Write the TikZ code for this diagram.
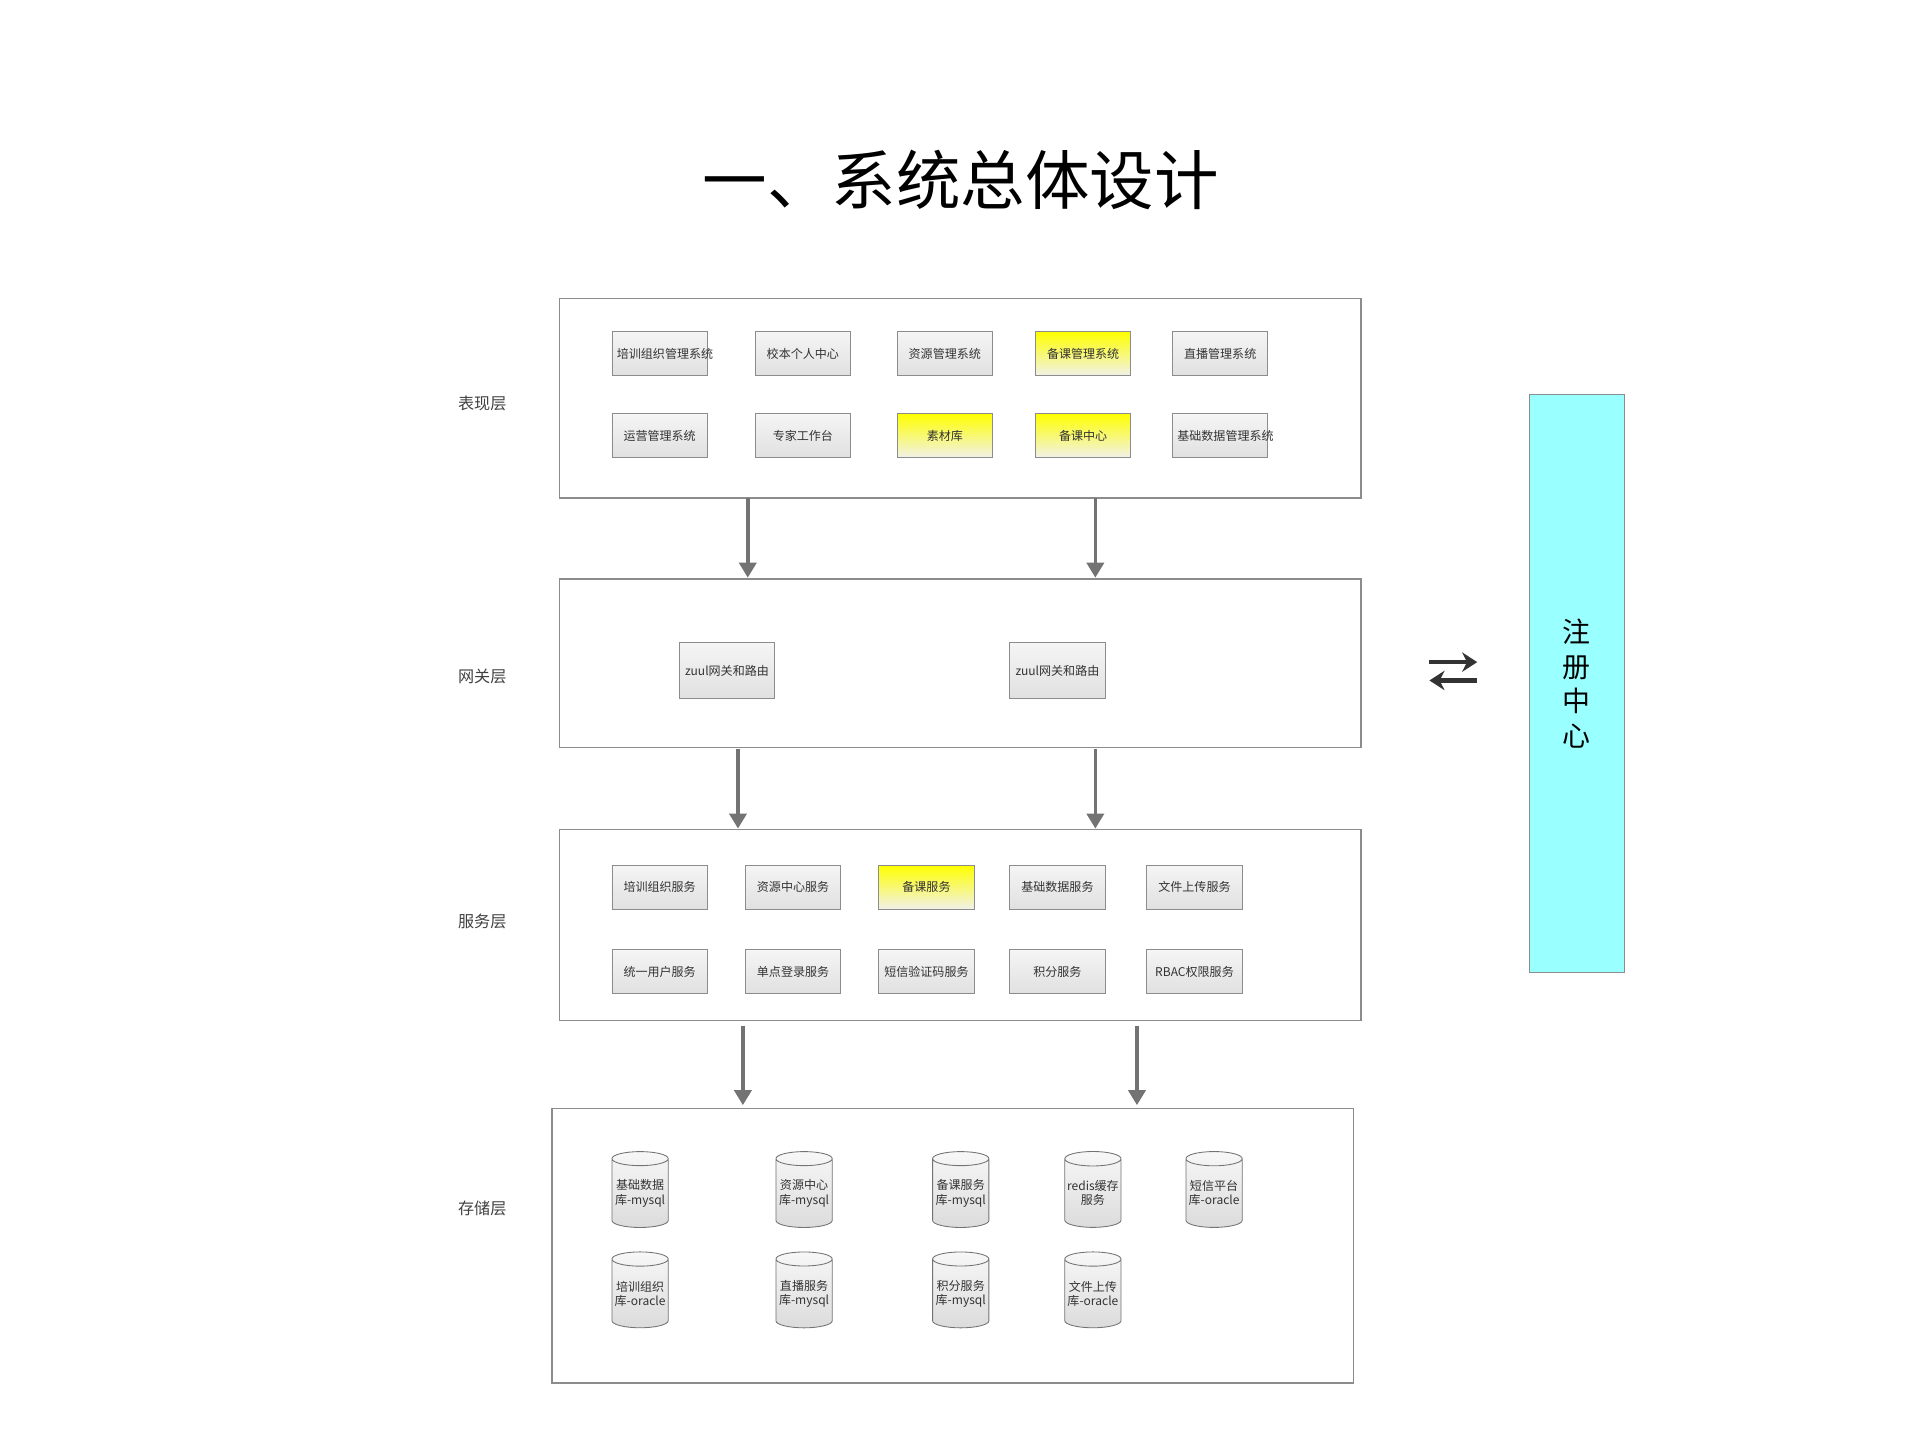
\documentclass[tikz,border=0pt]{standalone}
\usepackage{fontspec}
\setmainfont{Noto Sans CJK SC}
\usetikzlibrary{shapes.geometric,arrows.meta}
\definecolor{regc}{RGB}{153,255,255}
\begin{document}
\begin{tikzpicture}[x=0.02cm,y=-0.02cm,
 layer/.style={draw=black!45,line width=0.6pt},
 sbox/.style={draw=black!45,top color=black!4,bottom color=black!12,minimum width=1.56cm,minimum height=0.72cm,inner sep=1pt,align=center,font=\fontsize{5.6}{6.6}\selectfont,text=black!80,text width=1.4cm},
 ybox/.style={sbox,top color=yellow,bottom color=yellow!30!black!8},
 gbox/.style={sbox,minimum height=0.92cm},
 db/.style={cylinder,shape border rotate=90,aspect=0.28,draw=black!55,top color=black!3,bottom color=black!14,minimum width=0.92cm,minimum height=1.24cm,inner sep=0pt,align=center,font=\fontsize{5.6}{6.6}\selectfont,text=black!80},
 lbl/.style={font=\fontsize{7.5}{9}\selectfont,text=black!75},
 flow/.style={-{Triangle[length=7pt,width=8pt]},draw=black!55,line width=1.6pt}]
\useasboundingbox (0,0) rectangle (1568,1176);
\node (title) at (785,147) {\fontsize{30}{36}\selectfont 一、系统总体设计};
\node[lbl] (l1) at (394,330) {表现层};
\node[lbl] (l2) at (394,553) {网关层};
\node[lbl] (l3) at (394,753) {服务层};
\node[lbl] (l4) at (394,987) {存储层};
\draw[layer] (457,244) rectangle (1112,407);
\draw[layer] (457,473) rectangle (1112,611);
\draw[layer] (457,678) rectangle (1112,834);
\draw[layer] (451,906) rectangle (1106,1130);
\coordinate (p1) at (611,407); \coordinate (p2) at (611,472);
\coordinate (p3) at (895,407); \coordinate (p4) at (895,472);
\coordinate (g1) at (603,612); \coordinate (g2) at (603,677);
\coordinate (g3) at (895,612); \coordinate (g4) at (895,677);
\coordinate (s1) at (607,838); \coordinate (s2) at (607,903);
\coordinate (s3) at (929,838); \coordinate (s4) at (929,903);
\draw[flow] (p1)--(p2); \draw[flow] (p3)--(p4);
\draw[flow] (g1)--(g2); \draw[flow] (g3)--(g4);
\draw[flow] (s1)--(s2); \draw[flow] (s3)--(s4);
\node[sbox] (a1) at (539,289) {培训组织管理系统};
\node[sbox] (a2) at (656,289) {校本个人中心};
\node[sbox] (a3) at (772,289) {资源管理系统};
\node[ybox] (a4) at (885,289) {备课管理系统};
\node[sbox] (a5) at (997,289) {直播管理系统};
\node[sbox] (b1) at (539,356) {运营管理系统};
\node[sbox] (b2) at (656,356) {专家工作台};
\node[ybox] (b3) at (772,356) {素材库};
\node[ybox] (b4) at (885,356) {备课中心};
\node[sbox] (b5) at (997,356) {基础数据管理系统};
\node[gbox] (z1) at (594,548) {zuul网关和路由};
\node[gbox] (z2) at (864,548) {zuul网关和路由};
\node[sbox] (c1) at (539,725) {培训组织服务};
\node[sbox] (c2) at (648,725) {资源中心服务};
\node[ybox] (c3) at (757,725) {备课服务};
\node[sbox] (c4) at (864,725) {基础数据服务};
\node[sbox] (c5) at (976,725) {文件上传服务};
\node[sbox] (d1) at (539,794) {统一用户服务};
\node[sbox] (d2) at (648,794) {单点登录服务};
\node[sbox] (d3) at (757,794) {短信验证码服务};
\node[sbox] (d4) at (864,794) {积分服务};
\node[sbox] (d5) at (976,794) {RBAC权限服务};
\node[db] (e1) at (523,975) {基础数据\\库-mysql};
\node[db] (e2) at (657,975) {资源中心\\库-mysql};
\node[db] (e3) at (785,975) {备课服务\\库-mysql};
\node[db] (e4) at (893,975) {redis缓存\\服务};
\node[db] (e5) at (992,975) {短信平台\\库-oracle};
\node[db] (f1) at (523,1057) {培训组织\\库-oracle};
\node[db] (f2) at (657,1057) {直播服务\\库-mysql};
\node[db] (f3) at (785,1057) {积分服务\\库-mysql};
\node[db] (f4) at (893,1057) {文件上传\\库-oracle};
\node[draw=black!45,fill=regc,minimum width=1.54cm,minimum height=9.46cm,inner sep=0pt,font=\fontsize{13}{16}\selectfont,align=center] (reg) at (1288.5,558.5) {注\\册\\中\\心};
\coordinate (r1) at (1168,541); \coordinate (r2) at (1207,541);
\coordinate (r3) at (1207,556); \coordinate (r4) at (1168,556);
\draw[-{Stealth[length=7pt,width=9pt]},line width=2.2pt,black!80] (r1)--(r2);
\draw[-{Stealth[length=7pt,width=9pt]},line width=2.2pt,black!80] (r3)--(r4);
\end{tikzpicture}
\end{document}
